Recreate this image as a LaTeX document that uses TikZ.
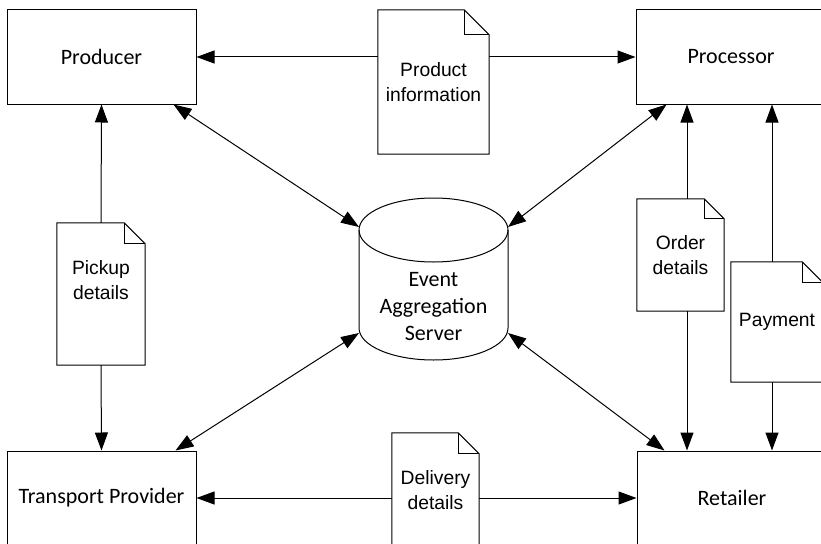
\documentclass[tikz,border=0pt]{standalone}
\usepackage{fontspec}
\newfontfamily\boxfont{Carlito}
\newfontfamily\docfont{Liberation Sans}
\usetikzlibrary{arrows.meta}

% outline of a page with a folded corner, around a node
\newcommand{\docoutline}[2]{%
  \draw[line width=1pt] (#1.north west) -- ([xshift=-#2]#1.north east) -- ([yshift=-#2]#1.north east) -- (#1.south east) -- (#1.south west) -- cycle;
  \draw[line width=1pt] ([xshift=-#2]#1.north east) |- ([yshift=-#2]#1.north east);
}

\begin{document}
\begin{tikzpicture}[x=1pt,y=-1pt,
    >={Triangle[length=18pt,width=13pt]},
    box/.style={draw,line width=1pt,minimum width=189pt,minimum height=94pt,inner sep=0pt,font=\boxfont\fontsize{22}{27}\selectfont},
    doc/.style={inner sep=0pt,align=center,font=\docfont\fontsize{19.3}{25}\selectfont},
    flow/.style={line width=1pt}]
	\useasboundingbox (0,0) rectangle (821,543);

	% parties
	\node[box] (prod) at (101.5,57) {Producer};
	\node[box,minimum width=190pt] (proc) at (731,57) {Processor};
	\node[box] (tp) at (101.5,498) {Transport Provider};
	\node[box,minimum width=190pt] (ret) at (732,498) {Retailer};

	% server
	\draw[line width=1pt] (433.5,230) ellipse [x radius=74.5pt,y radius=32pt];
	\draw[line width=1pt] (359,230) -- (359,328) arc[start angle=180,end angle=360,x radius=74.5pt,y radius=32pt] -- (508,230);
	\node[align=center,font=\boxfont\fontsize{22}{27}\selectfont] (srv) at (433.5,307) {Event\\Aggregation\\Server};
	\coordinate (srvnw) at (359,227);
	\coordinate (srvne) at (508,227);
	\coordinate (srvsw) at (359,333);
	\coordinate (srvse) at (508,333);

	% documents
	\node[doc,minimum width=111pt,minimum height=144pt] (prodinfo) at (433.5,82) {Product\\information};
	\node[doc,minimum width=88pt,minimum height=142pt] (pickup) at (101,294) {};
	\node[doc] (pickuptext) at (101,280) {Pickup\\details};
	\node[doc,minimum width=87pt,minimum height=112pt] (order) at (680.5,255) {Order\\details};
	\node[doc,minimum width=92pt,minimum height=120pt] (pay) at (777,322) {Payment};
	\node[doc,minimum width=87pt,minimum height=114pt] (deliv) at (435.5,490) {Delivery\\details};
	\docoutline{prodinfo}{25pt}
	\docoutline{pickup}{21pt}
	\docoutline{order}{20pt}
	\docoutline{pay}{21pt}
	\docoutline{deliv}{21pt}

	% document flows
	\draw[flow,->] (prodinfo.west |- prod.east) -- (prod.east);
	\draw[flow,->] (prodinfo.east |- proc.west) -- (proc.west);
	\draw[flow,->] (pickup.north) -- (prod.south);
	\draw[flow,->] (pickup.south) -- (tp.north);
	\draw[flow,->] ([xshift=6.5pt]order.north) -- ([xshift=6.5pt]order.north |- proc.south);
	\draw[flow,->] ([xshift=6.5pt]order.south) -- ([xshift=6.5pt]order.south |- ret.north);
	\draw[flow,->] ([xshift=-5pt]pay.north) -- ([xshift=-5pt]pay.north |- proc.south);
	\draw[flow,->] ([xshift=-5pt]pay.south) -- ([xshift=-5pt]pay.south |- ret.north);
	\draw[flow,->] (deliv.west |- tp.east) -- (tp.east);
	\draw[flow,->] (deliv.east |- ret.west) -- (ret.west);

	% events to the server
	\draw[flow,<->] ([xshift=-23pt]prod.south east) -- (srvnw);
	\draw[flow,<->] ([xshift=31pt]proc.south west) -- (srvne);
	\draw[flow,<->] ([xshift=-21pt]tp.north east) -- (srvsw);
	\draw[flow,<->] ([xshift=28pt]ret.north west) -- (srvse);
\end{tikzpicture}
\end{document}
